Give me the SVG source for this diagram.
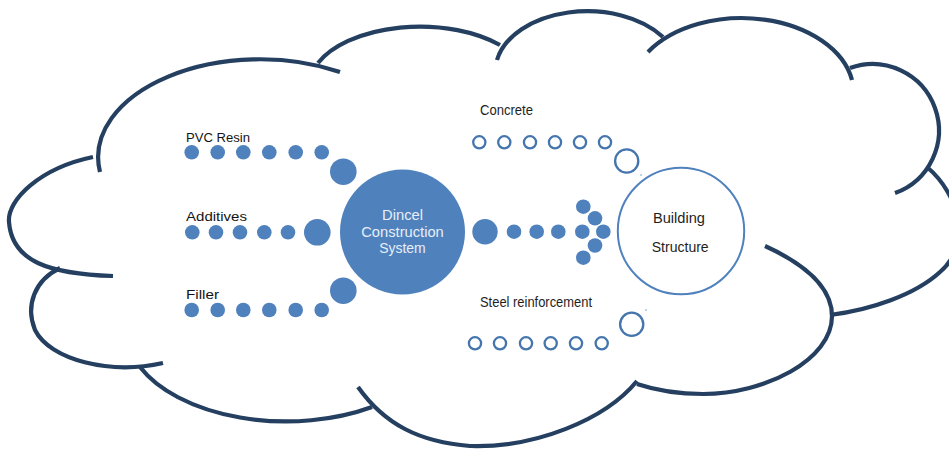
<svg xmlns="http://www.w3.org/2000/svg" width="949" height="449" viewBox="0 0 949 449">
<style>
.cloud{fill:none;stroke:#243f60;stroke-width:4.2;stroke-linecap:butt}
.dot{fill:#4f81bd}
.ring{fill:none;stroke:#4575ad;stroke-width:2.3}
.lbl{font-family:"Liberation Sans",Arial,sans-serif;font-size:12.5px;fill:#141414}
.lbl2{font-family:"Liberation Sans",Arial,sans-serif;font-size:15px;fill:#1e1e1e}
.ctr{font-family:"Liberation Sans",Arial,sans-serif;font-size:14px;fill:#e8eef7;text-anchor:middle}
</style>
<rect width="949" height="449" fill="#ffffff"/>
<g id="cloud">
<path class="cloud" d="M100,172 A162,98 0 0 1 340,72"/>
<path class="cloud" d="M318,63 A111,60 0 0 1 500,45"/>
<path class="cloud" d="M497,60 A92,60 0 0 1 663,37"/>
<path class="cloud" d="M648,52 A112,75 0 0 1 852,80"/>
<path class="cloud" d="M850,68 A66,66 0 0 1 895,193"/>
<path class="cloud" d="M927,167 C960,195 972,245 940,272 C915,295 870,310 830,315"/>
<path class="cloud" d="M765,246 C800,262 832,285 832,316 C832,360 765,394 703,394 C680,394 655,390 637,384"/>
<path class="cloud" d="M637,381 C605,420 535,448 470,446 C420,442 385,425 358,387"/>
<path class="cloud" d="M372,407 A160,92 0 0 1 140,367"/>
<path class="cloud" d="M60,268 C35,280 25,305 35,330 C50,360 110,375 163,363"/>
<path class="cloud" d="M113,276 C50,274 12,262 9,222 C7,200 40,168 93,157"/>
</g>
<g id="labels">
<text class="lbl" x="186" y="142" textLength="64" lengthAdjust="spacingAndGlyphs">PVC Resin</text>
<text class="lbl" x="186" y="221" textLength="61" lengthAdjust="spacingAndGlyphs">Additives</text>
<text class="lbl" x="186" y="299" textLength="33" lengthAdjust="spacingAndGlyphs">Filler</text>
<text class="lbl2" x="480" y="115" textLength="53" lengthAdjust="spacingAndGlyphs">Concrete</text>
<text class="lbl2" x="480" y="307" textLength="112" lengthAdjust="spacingAndGlyphs">Steel reinforcement</text>
</g>
<g id="connectors">
<g id="pvc-chain">
<circle class="dot" cx="191.7" cy="152.3" r="7.3"/>
<circle class="dot" cx="217.7" cy="152.3" r="7.3"/>
<circle class="dot" cx="243.3" cy="152.3" r="7.3"/>
<circle class="dot" cx="269.3" cy="152.3" r="7.3"/>
<circle class="dot" cx="295.7" cy="152.3" r="7.3"/>
<circle class="dot" cx="321.7" cy="152.3" r="7.3"/>
<circle class="dot" cx="343.3" cy="171.7" r="13.3"/>
</g>
<g id="additives-chain">
<circle class="dot" cx="192.3" cy="232.3" r="7.3"/>
<circle class="dot" cx="216" cy="232.3" r="7.3"/>
<circle class="dot" cx="240" cy="232.3" r="7.3"/>
<circle class="dot" cx="264.3" cy="232.3" r="7.3"/>
<circle class="dot" cx="288" cy="232.3" r="7.3"/>
<circle class="dot" cx="317.3" cy="232.3" r="13.3"/>
</g>
<g id="filler-chain">
<circle class="dot" cx="191.7" cy="310" r="7.3"/>
<circle class="dot" cx="217.7" cy="310" r="7.3"/>
<circle class="dot" cx="243.3" cy="310" r="7.3"/>
<circle class="dot" cx="269.3" cy="310" r="7.3"/>
<circle class="dot" cx="295.7" cy="310" r="7.3"/>
<circle class="dot" cx="321.7" cy="310" r="7.3"/>
<circle class="dot" cx="343.3" cy="290.7" r="13.3"/>
</g>
<g id="output-arrow">
<circle class="dot" cx="485" cy="231.7" r="12.7"/>
<circle class="dot" cx="514" cy="231.7" r="7.3"/>
<circle class="dot" cx="536.7" cy="231.7" r="7.3"/>
<circle class="dot" cx="558.3" cy="231.7" r="7.3"/>
<circle class="dot" cx="582.3" cy="231.7" r="7.3"/>
<circle class="dot" cx="583.3" cy="206.7" r="7.3"/>
<circle class="dot" cx="595" cy="218.3" r="7.3"/>
<circle class="dot" cx="603.3" cy="231.7" r="7.3"/>
<circle class="dot" cx="595" cy="245.5" r="7.3"/>
<circle class="dot" cx="583.3" cy="257.7" r="7.3"/>
</g>
<g id="concrete-chain">
<circle class="ring" cx="479.3" cy="142.3" r="6.1"/>
<circle class="ring" cx="504.3" cy="142.3" r="6.1"/>
<circle class="ring" cx="530" cy="142.3" r="6.1"/>
<circle class="ring" cx="555" cy="142.3" r="6.1"/>
<circle class="ring" cx="580" cy="142.3" r="6.1"/>
<circle class="ring" cx="605" cy="142.3" r="6.1"/>
<circle class="ring" cx="626.7" cy="161" r="11.6"/>
<circle class="dot" cx="641" cy="175" r="0.7"/>
</g>
<g id="steel-chain">
<circle class="ring" cx="475" cy="343.3" r="6.1"/>
<circle class="ring" cx="500" cy="343.3" r="6.1"/>
<circle class="ring" cx="526" cy="343.3" r="6.1"/>
<circle class="ring" cx="550.7" cy="343.3" r="6.1"/>
<circle class="ring" cx="576" cy="343.3" r="6.1"/>
<circle class="ring" cx="601.7" cy="343.3" r="6.1"/>
<circle class="ring" cx="631.7" cy="324.3" r="11.6"/>
<circle class="dot" cx="646" cy="310" r="0.7"/>
</g>
</g>
<g id="dincel-node">
<circle cx="402.5" cy="232" r="62.5" fill="#4f81bd"/>
<text class="ctr" x="402.5" y="220" textLength="41" lengthAdjust="spacingAndGlyphs">Dincel</text>
<text class="ctr" x="402.5" y="236.5" textLength="82.5" lengthAdjust="spacingAndGlyphs">Construction</text>
<text class="ctr" x="402.5" y="252.5" textLength="46.5" lengthAdjust="spacingAndGlyphs">System</text>
</g>
<g id="building-node">
<circle cx="681" cy="231" r="63.2" fill="none" stroke="#4f81bd" stroke-width="2"/>
<text class="lbl2" x="653" y="223" textLength="52" lengthAdjust="spacingAndGlyphs">Building</text>
<text class="lbl2" x="651.7" y="251.7" textLength="57" lengthAdjust="spacingAndGlyphs">Structure</text>
</g>
</svg>
